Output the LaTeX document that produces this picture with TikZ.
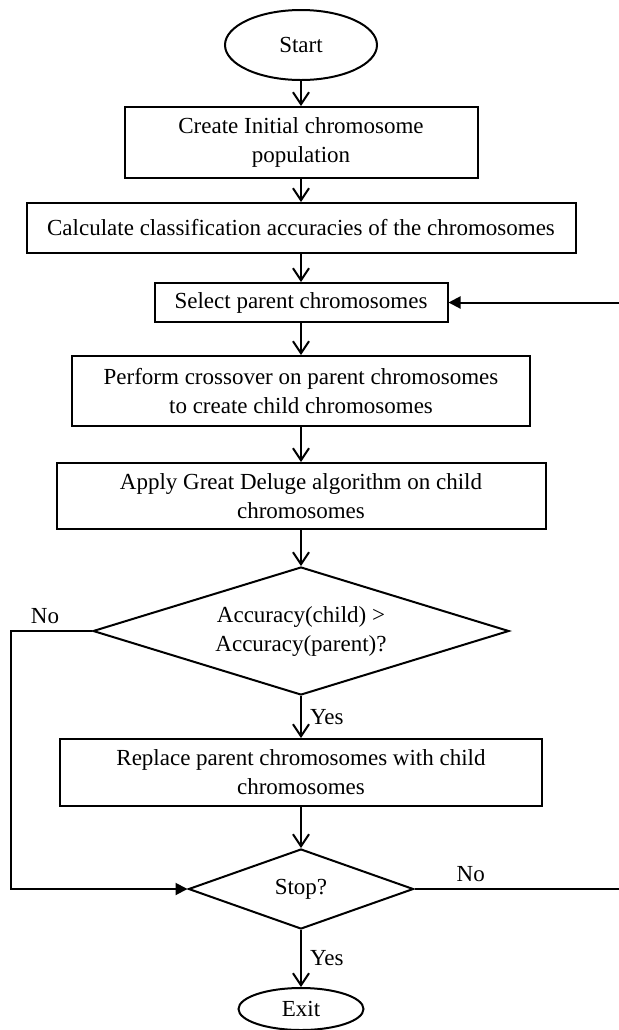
\documentclass[tikz,border=0pt]{standalone}
\usepackage{fontspec}
\setmainfont{Liberation Serif}
\usepackage{tikz}
\usetikzlibrary{arrows.meta,shapes.geometric}

\tikzset{
  proc/.style={draw,line width=1pt,rectangle,align=center,inner sep=0pt},
  term/.style={draw,line width=1pt,ellipse,inner sep=0pt},
  decision/.style={draw,line width=1pt,diamond,align=center,inner sep=0pt,aspect=3},
  flow/.style={line width=1pt,-{Straight Barb[length=6pt,width=8pt]}},
  back/.style={line width=1pt,-{Triangle[length=6pt,width=6pt]}}
}

\begin{document}
\begin{tikzpicture}[x=0.5pt,y=-0.5pt,font=\fontsize{11.5}{14.5}\selectfont]
  \useasboundingbox (0,0) rectangle (619,1030);
  % main column
  \node[term,minimum width=76pt,minimum height=35pt] (start) at (301,45) {Start};
  \node[proc,minimum width=176.5pt,minimum height=35.5pt] (create) at (301,142.5) {Create Initial chromosome\\population};
  \node[proc,minimum width=274.5pt,minimum height=25pt] (calc) at (301,228) {Calculate classification accuracies of the chromosomes};
  \node[proc,minimum width=146.5pt,minimum height=19.5pt] (select) at (301,302.5) {Select parent chromosomes};
  \node[proc,minimum width=229pt,minimum height=35pt] (cross) at (301,391) {Perform crossover on parent chromosomes\\to create child chromosomes};
  \node[proc,minimum width=244.5pt,minimum height=33pt] (deluge) at (301,496) {Apply Great Deluge algorithm on child\\chromosomes};
  \node[decision,minimum width=208pt,minimum height=64pt] (better) at (301,631) {Accuracy(child) >\\Accuracy(parent)?};
  \node[proc,minimum width=241pt,minimum height=33.5pt] (replace) at (301,772.5) {Replace parent chromosomes with child\\chromosomes};
  \node[decision,minimum width=112.5pt,minimum height=40pt] (stop) at (301,889) {Stop?};
  \node[term,minimum width=62.5pt,minimum height=21pt] (exit) at (301,1009) {Exit};

  \coordinate (noleft) at (11,631);
  \coordinate (noright) at (623,889);

  \draw[flow] (start) -- (create);
  \draw[flow] (create) -- (calc);
  \draw[flow] (calc) -- (select);
  \draw[flow] (select) -- (cross);
  \draw[flow] (cross) -- (deluge);
  \draw[flow] (deluge) -- (better);
  \draw[flow] (better) -- node[right,inner sep=4pt] {Yes} (replace);
  \draw[flow] (replace) -- (stop);
  \draw[flow] (stop) -- node[right,inner sep=4pt] {Yes} (exit);

  % loops
  \draw[back] (better.west) -- node[above,pos=0.58,inner sep=3pt] {No} (noleft) |- (stop.west);
  \draw[back] (stop.east) -- node[above,pos=0.27,inner sep=3pt] {No} (noright) |- (select.east);
\end{tikzpicture}
\end{document}
